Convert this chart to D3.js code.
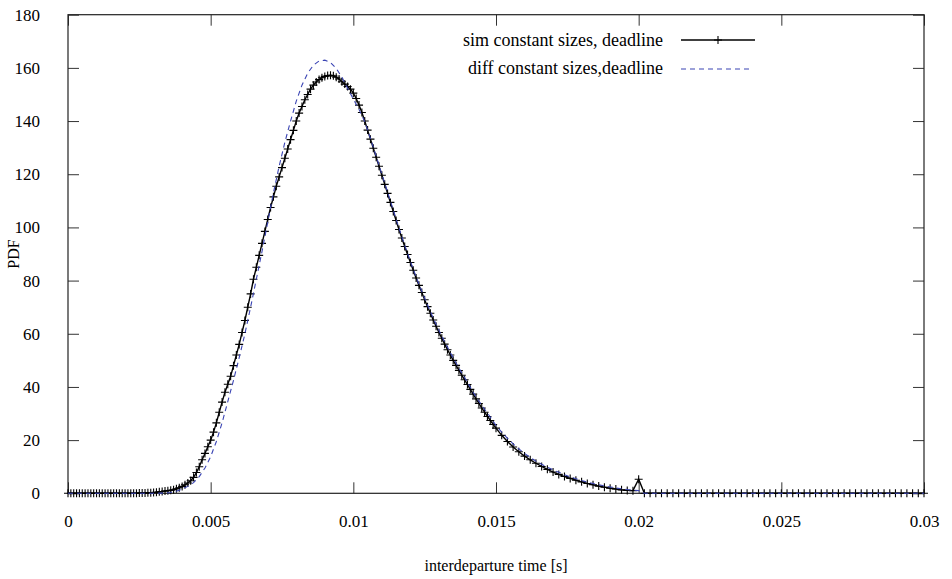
<!DOCTYPE html>
<html>
<head>
<meta charset="utf-8">
<script src="https://cdn.jsdelivr.net/npm/d3@7"></script>
<style>
  html, body { margin: 0; padding: 0; background: #fff; }
  svg { display: block; }
  text { font-family: "Liberation Serif", "Times New Roman", "DejaVu Serif", serif; fill: #000; }
</style>
</head>
<body>
<svg id="chart" width="952" height="579"></svg>
<script>
// ---- data ----
const xTicks = [0, 0.005, 0.01, 0.015, 0.02, 0.025, 0.03];
const xTickLabels = ["0", "0.005", "0.01", "0.015", "0.02", "0.025", "0.03"];
const yTicks = [0, 20, 40, 60, 80, 100, 120, 140, 160, 180];
const seriesNames = ["sim constant sizes, deadline", "diff constant sizes,deadline"];

// simulation: 0 .. 0.015 s every 0.0001 s, then 0.0152 .. 0.03 s every 0.0002 s
const simFineStep = 0.0001;
const simCoarseStep = 0.0002;
const simFineValues = [
  0,0,0,0,0,0,0,0,0,0, 0,0,0,0,0,0,0,0,0,0, 0,0,0,0,0,
  0.1,0.12,0.15,0.18,0.22,
  0.3,0.4,0.55,0.7,0.85,1.0,1.15,1.35,1.7,2.1,
  2.6,3.2,3.9,4.7,6.0,7.8,10.0,12.6,15.0,17.5,
  20.0,23.0,26.5,30.5,34.3,38.0,41.0,44.0,48.0,52.0,
  56.0,60.5,65.0,70.0,75.0,80.5,85.0,89.5,94.0,98.5,
  103.0,107.5,111.5,115.5,119.0,122.5,126.0,129.5,133.0,136.5,
  140.0,143.0,145.5,148.0,150.0,152.0,153.5,154.7,155.6,156.3,
  156.8,157.1,157.2,157.0,156.5,155.8,154.8,153.9,153.0,152.0,
  150.5,148.5,146.0,143.2,140.0,136.6,133.2,129.8,126.4,123.0,
  119.6,116.2,112.8,109.4,106.0,102.6,99.2,96.0,92.8,89.8,
  86.8,83.9,81.0,78.2,75.5,72.8,70.2,67.7,65.2,62.8,
  60.5,58.3,56.1,54.0,52.0,50.0,48.1,46.2,44.4,42.7,
  40.9,39.1,37.3,35.5,33.8,32.1,30.5,28.9,27.4,25.9,
  24.5
];
const simCoarseValues = [
  21.8,19.5,17.4,15.6,14.0,12.6,11.3,10.1,9.0,8.0,
  7.1,6.3,5.6,4.9,4.3,3.7,3.2,2.7,2.3,1.9,
  1.6,1.3,1.1,1.0,5.3,
  0,0,0,0,0,0,0,0,0,0, 0,0,0,0,0,0,0,0,0,0,
  0,0,0,0,0,0,0,0,0,0, 0,0,0,0,0,0,0,0,0,0,
  0,0,0,0,0,0,0,0,0,0
];

// diffusion approximation: 0 .. 0.03 s every 0.0002 s
const diffStep = 0.0002;
const diffValues = [
  0,0,0,0,0,0,0,0,0,0, 0,0,0,0,0,
  0.02,0.05,0.1,0.3,0.8,
  1.6,2.6,4.0,6.3,9.5,
  13.8,19.5,26.5,34.5,42.5,
  51.0,60.0,70.0,80.5,91.0,
  102.0,113.0,123.0,132.0,140.0,
  147.5,153.5,158.0,161.0,162.6,
  162.9,162.0,159.8,156.5,152.3,
  148.3,144.3,139.8,133.5,126.8,
  120.0,113.3,106.5,99.8,93.3,
  87.2,81.4,76.0,70.8,65.9,
  61.3,57.0,52.9,49.0,45.3,
  41.8,38.0,34.7,31.6,28.7,
  25.5,23.0,20.7,18.6,16.7,
  15.0,13.5,12.1,10.9,9.8,
  8.8,7.9,7.0,6.2,5.5,
  4.8,4.2,3.7,3.2,2.8,
  2.4,2.0,1.7,1.4,1.2,
  1.0,
  0,0,0,0,0,0,0,0,0,0, 0,0,0,0,0,0,0,0,0,0,
  0,0,0,0,0,0,0,0,0,0, 0,0,0,0,0,0,0,0,0,0,
  0,0,0,0,0,0,0,0,0,0
];

// ---- build points ----
const simData = simFineValues.map((v, i) => ({ x: i * simFineStep, y: v }))
  .concat(simCoarseValues.map((v, i) => ({ x: 0.015 + (i + 1) * simCoarseStep, y: v })));
const diffData = diffValues.map((v, i) => ({ x: i * diffStep, y: v }));

// ---- layout ----
const svg = d3.select("#chart");
const plotLeft = 68, plotRight = 924, plotTop = 14.7, plotBottom = 493.3;
const x = d3.scaleLinear().domain([0, 0.03]).range([plotLeft, plotRight]);
const y = d3.scaleLinear().domain([0, 180]).range([plotBottom, plotTop]);
const tickLen = 11;
const diffColor = "#3a44b4";
const serif = "Liberation Serif, Times New Roman, serif";

// ticks (inner, mirrored)
const g = svg.append("g");
g.append("g").attr("transform", `translate(0,${plotBottom})`)
  .call(d3.axisBottom(x).tickValues(xTicks).tickSize(-tickLen).tickFormat((d, i) => xTickLabels[i]).tickPadding(22))
  .attr("font-family", serif).attr("font-size", 17)
  .call(a => a.select(".domain").remove())
  .call(a => a.selectAll("line").attr("stroke", "#333"));
g.append("g").attr("transform", `translate(0,${plotTop})`)
  .call(d3.axisTop(x).tickValues(xTicks).tickSize(-tickLen).tickFormat(""))
  .call(a => a.select(".domain").remove())
  .call(a => a.selectAll("line").attr("stroke", "#333"));
g.append("g").attr("transform", `translate(${plotLeft},0)`)
  .call(d3.axisLeft(y).tickValues(yTicks).tickSize(-tickLen).tickPadding(28))
  .attr("font-family", serif).attr("font-size", 17)
  .call(a => a.select(".domain").remove())
  .call(a => a.selectAll("line").attr("stroke", "#333"));
g.append("g").attr("transform", `translate(${plotRight},0)`)
  .call(d3.axisRight(y).tickValues(yTicks).tickSize(-tickLen).tickFormat(""))
  .call(a => a.select(".domain").remove())
  .call(a => a.selectAll("line").attr("stroke", "#333"));

// frame
svg.append("rect").attr("x", plotLeft).attr("y", plotTop)
  .attr("width", plotRight - plotLeft).attr("height", plotBottom - plotTop)
  .attr("fill", "none").attr("stroke", "#222").attr("stroke-width", 1.2);

// sim line + markers
const line = d3.line().x(d => x(d.x)).y(d => y(d.y));
svg.append("path").datum(simData).attr("d", line)
  .attr("fill", "none").attr("stroke", "#000").attr("stroke-width", 1.4);
const ms = 4;
svg.append("g").selectAll("path").data(simData).join("path")
  .attr("d", d => `M${x(d.x) - ms},${y(d.y)}H${x(d.x) + ms}M${x(d.x)},${y(d.y) - ms}V${y(d.y) + ms}`)
  .attr("stroke", "#000").attr("stroke-width", 1.1).attr("fill", "none");

// diff dashed line
svg.append("path").datum(diffData).attr("d", line)
  .attr("fill", "none").attr("stroke", diffColor).attr("stroke-width", 1.1)
  .attr("stroke-dasharray", "5,4");

// legend
const lg = svg.append("g").attr("font-family", serif).attr("font-size", 18);
lg.append("text").attr("x", 663).attr("y", 46).attr("text-anchor", "end")
  .text(seriesNames[0]);
lg.append("line").attr("x1", 681).attr("x2", 755).attr("y1", 40).attr("y2", 40)
  .attr("stroke", "#000").attr("stroke-width", 1.4);
lg.append("path").attr("d", `M${718 - ms},40H${718 + ms}M718,${40 - ms}V${40 + ms}`)
  .attr("stroke", "#000").attr("stroke-width", 1.1);
lg.append("text").attr("x", 663).attr("y", 74).attr("text-anchor", "end")
  .text(seriesNames[1]);
lg.append("line").attr("x1", 681).attr("x2", 752).attr("y1", 69).attr("y2", 69)
  .attr("stroke", diffColor).attr("stroke-width", 1.1).attr("stroke-dasharray", "5,4");

// axis titles
svg.append("text").attr("x", 496).attr("y", 571).attr("text-anchor", "middle")
  .attr("font-size", 16).text("interdeparture time [s]");
svg.append("text").attr("transform", "translate(19,254) rotate(-90)")
  .attr("text-anchor", "middle").attr("font-size", 16).text("PDF");
</script>
</body>
</html>
